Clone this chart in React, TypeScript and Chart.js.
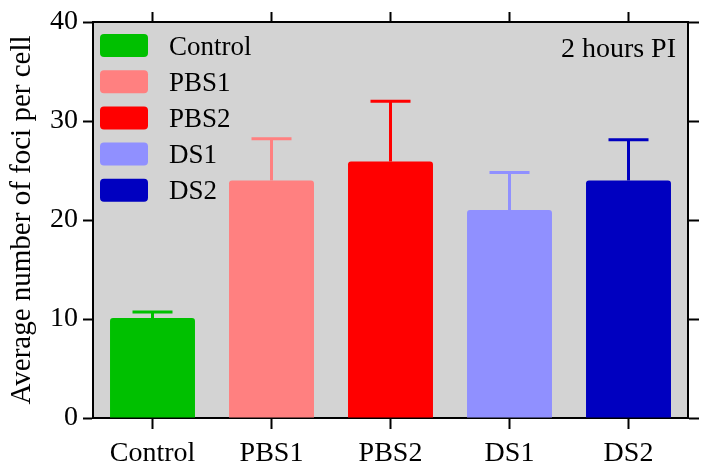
import React, { useEffect, useRef } from 'react';
import { Chart, registerables } from 'chart.js';

Chart.register(...registerables);

const categories = ['Control', 'PBS1', 'PBS2', 'DS1', 'DS2'];
const means = [10.1, 24.0, 25.9, 21.0, 24.0];
const errors = [0.6, 4.2, 6.1, 3.8, 4.1];
const colors = ['#00c000', '#ff8080', '#ff0000', '#9090ff', '#0000c0'];
const yMin = 0;
const yMax = 40;
const yStep = 10;
const annotationText = '2 hours PI';
const yTitle = 'Average number of foci per cell';

const FONT = "'Liberation Serif', 'Times New Roman', serif";

const backgroundPlugin = {
  id: 'plotBg',
  beforeDraw(chart: any) {
    const { ctx, chartArea } = chart;
    if (!chartArea) return;
    ctx.save();
    ctx.fillStyle = '#d3d3d3';
    ctx.fillRect(chartArea.left, chartArea.top, chartArea.right - chartArea.left, chartArea.bottom - chartArea.top);
    ctx.restore();
  },
};

const errorBarPlugin = {
  id: 'errorBars',
  afterDatasetsDraw(chart: any) {
    const { ctx } = chart;
    const meta = chart.getDatasetMeta(0);
    const yScale = chart.scales.y;
    const ds = chart.data.datasets[0];
    ctx.save();
    ctx.lineWidth = 3;
    ctx.lineCap = 'butt';
    meta.data.forEach((bar: any, i: number) => {
      const v = ds.data[i];
      const e = ds.errors[i];
      const x = bar.x;
      const y0 = yScale.getPixelForValue(v);
      const y1 = yScale.getPixelForValue(v + e);
      ctx.strokeStyle = ds.backgroundColor[i];
      ctx.beginPath();
      ctx.moveTo(x, y0);
      ctx.lineTo(x, y1);
      ctx.moveTo(x - 20, y1);
      ctx.lineTo(x + 20, y1);
      ctx.stroke();
    });
    ctx.restore();
  },
};

function roundRect(ctx: CanvasRenderingContext2D, x: number, y: number, w: number, h: number, r: number) {
  ctx.beginPath();
  ctx.moveTo(x + r, y);
  ctx.lineTo(x + w - r, y);
  ctx.quadraticCurveTo(x + w, y, x + w, y + r);
  ctx.lineTo(x + w, y + h - r);
  ctx.quadraticCurveTo(x + w, y + h, x + w - r, y + h);
  ctx.lineTo(x + r, y + h);
  ctx.quadraticCurveTo(x, y + h, x, y + h - r);
  ctx.lineTo(x, y + r);
  ctx.quadraticCurveTo(x, y, x + r, y);
  ctx.closePath();
}

const legendPlugin = {
  id: 'innerLegend',
  afterDatasetsDraw(chart: any) {
    const { ctx, chartArea } = chart;
    const labels = chart.data.labels as string[];
    const ds = chart.data.datasets[0];
    ctx.save();
    const bx = chartArea.left + 7;
    const by = chartArea.top + 12;
    const step = 36.2;
    labels.forEach((lab, i) => {
      const top = by + i * step;
      ctx.fillStyle = ds.backgroundColor[i];
      roundRect(ctx, bx, top, 48, 23, 4);
      ctx.fill();
      ctx.fillStyle = '#000';
      ctx.font = `27px ${FONT}`;
      ctx.textAlign = 'left';
      ctx.textBaseline = 'alphabetic';
      ctx.fillText(lab, bx + 69, top + 11.5 + 9);
    });
    ctx.font = `28px ${FONT}`;
    ctx.textAlign = 'right';
    ctx.fillText(annotationText, chartArea.right - 12, chartArea.top + 35);
    ctx.restore();
  },
};

export default function App() {
  const ref = useRef<HTMLCanvasElement>(null);
  useEffect(() => {
    document.body.style.margin = '0';
    const tickGrid = (len: number) => ({
      display: true,
      drawOnChartArea: false,
      drawTicks: true,
      offset: false,
      tickLength: len,
      tickWidth: 2,
      tickColor: '#000',
      color: '#000',
    });
    const border = { display: true, color: '#000', width: 2 };
    const chart = new Chart(ref.current!, {
      type: 'bar',
      data: {
        labels: categories,
        datasets: [
          {
            data: means,
            errors: errors,
            backgroundColor: colors,
            borderWidth: 0,
            borderRadius: 3,
            barPercentage: 1,
            categoryPercentage: 0.714,
          } as any,
        ],
      },
      options: {
        animation: false,
        responsive: false,
        maintainAspectRatio: false,
        layout: { padding: 0 },
        plugins: {
          legend: { display: false },
          tooltip: { enabled: false },
        },
        scales: {
          x: {
            type: 'category',
            position: 'bottom',
            offset: true,
            grid: tickGrid(11),
            border,
            ticks: { color: '#000', font: { family: FONT, size: 28 }, padding: 8, maxRotation: 0, autoSkip: false },
            afterFit: (s: any) => { s.height = 57; },
          },
          x2: {
            type: 'category',
            position: 'top',
            offset: true,
            grid: tickGrid(10),
            border,
            ticks: { display: false },
            afterFit: (s: any) => { s.height = 22; },
          },
          y: {
            type: 'linear',
            position: 'left',
            min: yMin,
            max: yMax,
            grid: tickGrid(10),
            border,
            ticks: { stepSize: yStep, color: '#000', font: { family: FONT, size: 28 }, padding: 5 },
            title: {
              display: true,
              text: yTitle,
              color: '#000',
              font: { family: FONT, size: 29 },
              padding: { top: 5, bottom: 0 },
            },
            afterFit: (s: any) => { s.width = 93; },
          },
          y2: {
            type: 'linear',
            position: 'right',
            min: yMin,
            max: yMax,
            grid: tickGrid(11),
            border,
            ticks: { stepSize: yStep, display: false },
            afterFit: (s: any) => { s.width = 24; },
          },
        },
      } as any,
      plugins: [backgroundPlugin, errorBarPlugin, legendPlugin],
    });
    return () => chart.destroy();
  }, []);
  return (
    <div style={{ position: 'fixed', left: 0, top: 0, width: 712, height: 475, background: '#fff' }}>
      <canvas ref={ref} width={712} height={475} style={{ width: 712, height: 475 }} />
    </div>
  );
}
